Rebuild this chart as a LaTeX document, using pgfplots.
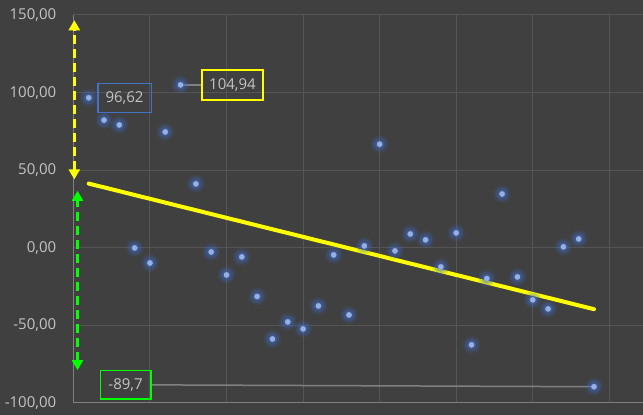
\documentclass[border=0pt]{standalone}
\usepackage{pgfplots}
\pgfplotsset{compat=1.18}
\usepackage{pgfplotstable}
\usepackage{fontspec}
\setmainfont{Open Sans}
\usetikzlibrary{arrows.meta}

\definecolor{bg}{HTML}{404040}
\definecolor{gridc}{HTML}{555555}
\definecolor{axisc}{HTML}{808080}
\definecolor{txt}{HTML}{C4C4C4}
\definecolor{dotc}{HTML}{94B0E4}
\definecolor{glow}{HTML}{3F6FD0}
\definecolor{boxblue}{HTML}{4472C4}
\definecolor{ylw}{HTML}{FFFF00}
\definecolor{grn}{HTML}{00FF00}

% index, value
\pgfplotstableread{
x y
1 96.62
2 82.2
3 79.1
4 -0.2
5 -9.9
6 74.6
7 104.94
8 41.1
9 -2.8
10 -17.6
11 -6.0
12 -31.5
13 -58.9
14 -47.9
15 -52.4
16 -37.6
17 -4.7
18 -43.4
19 1.1
20 66.7
21 -2.1
22 8.8
23 5.0
24 -12.4
25 9.5
26 -62.7
27 -19.9
28 34.6
29 -18.9
30 -33.7
31 -39.5
32 0.5
33 5.6
34 -89.7
}\pts

\begin{document}
\begin{tikzpicture}
\fill[bg] (-73.4bp,-12.3bp) rectangle (569.6bp,402.7bp);
\begin{axis}[
    at={(0,0)}, anchor=south west,
    scale only axis, width=569.6bp, height=387.7bp,
    xmin=0, xmax=37.2, ymin=-100, ymax=150,
    axis x line*=bottom, axis y line*=left,
    axis line style={axisc, line width=1.3bp, -},
    xtick={0,5,...,35}, xticklabels={},
    ytick={-100,-50,0,50,100,150},
    yticklabels={{-100,00},{-50,00},{0,00},{50,00},{100,00},{150,00}},
    major tick length=0pt,
    grid=major, grid style={gridc, line width=1bp},
    yticklabel style={txt, font=\fontsize{15bp}{18bp}\selectfont, inner sep=0pt, xshift=-17bp},
    clip=false,
]
% trend line
\addplot[ylw, line width=4bp, line cap=round] coordinates {(1,41.3) (34,-39.7)};
% connectors
\addplot[axisc, line width=1.5bp] coordinates {(7,104.94) (8.39,104.94)};
\addplot[axisc, line width=1.5bp] coordinates {(5.05,-88.5) (34,-89.7)};
% points with glow
\addplot[only marks, mark=*, glow, opacity=0.12, mark size=8.5bp] table[x=x,y=y]{\pts};
\addplot[only marks, mark=*, glow, opacity=0.2, mark size=6.5bp] table[x=x,y=y]{\pts};
\addplot[only marks, mark=*, glow, opacity=0.3, mark size=4.5bp] table[x=x,y=y]{\pts};
\addplot[only marks, mark=*, dotc, mark size=2.6bp] table[x=x,y=y]{\pts};
% range arrows
\addplot[ylw, line width=2.5bp, dash pattern=on 9bp off 5bp,
    {Triangle[width=11bp,length=10bp]}-{Triangle[width=11bp,length=10bp]}]
    coordinates {(0.06,44) (0.06,146.6)};
\addplot[grn, line width=2.5bp, dash pattern=on 9bp off 5bp,
    {Triangle[width=11bp,length=10bp]}-{Triangle[width=11bp,length=10bp]}]
    coordinates {(0.27,-79) (0.27,36.6)};
% value boxes
\node[draw=boxblue, line width=1.6bp, text=txt, font=\fontsize{15bp}{18bp}\selectfont,
    minimum width=53.6bp, minimum height=29bp, inner sep=0pt] at (axis cs:3.34,96.5) {96,62};
\node[draw=ylw, line width=1.6bp, text=txt, font=\fontsize{15bp}{18bp}\selectfont,
    minimum width=61.3bp, minimum height=30bp, inner sep=0pt] at (axis cs:10.39,104.7) {104,94};
\node[draw=grn, line width=1.6bp, text=txt, font=\fontsize{15bp}{18bp}\selectfont,
    minimum width=50.4bp, minimum height=28.7bp, inner sep=0pt] at (axis cs:3.41,-88.5) {-89,7};
\end{axis}
\pgfresetboundingbox
\path[use as bounding box] (-73.4bp,-12.3bp) rectangle (569.6bp,402.7bp);
\end{tikzpicture}
\end{document}
